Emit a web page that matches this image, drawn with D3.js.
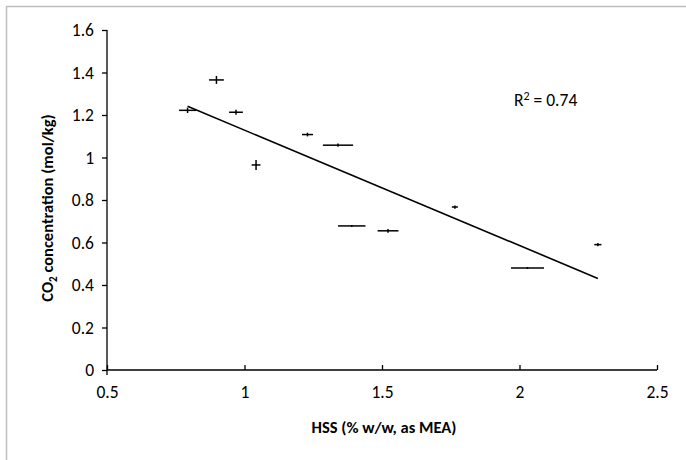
<!DOCTYPE html>
<html>
<head>
<meta charset="utf-8">
<script src="https://cdn.jsdelivr.net/npm/d3@7"></script>
<style>
  html, body { margin: 0; padding: 0; background: #fff; }
  svg text { font-family: Carlito, Calibri, Lato, "Open Sans", sans-serif; fill: #000; }
</style>
</head>
<body>
<svg id="chart" width="686" height="460"></svg>
<script>
// HSS content (% w/w as MEA) and measured CO2 concentration (mol/kg)
const hss   = [0.793, 0.898, 0.969, 1.042, 1.229, 1.340, 1.390, 1.522, 1.765, 2.029, 2.285];
const co2   = [1.222, 1.365, 1.213, 0.965, 1.108, 1.058, 0.678, 0.655, 0.767, 0.480, 0.590];
// error half-widths
const hssErr = [0.031, 0.027, 0.025, 0.016, 0.020, 0.055, 0.050, 0.038, 0.011, 0.060, 0.013];
const co2Err = [0.008, 0.014, 0.007, 0.019, 0.004, 0.003, 0.000, 0.004, 0.003, 0.000, 0.003];

const xTicks = [0.5, 1, 1.5, 2, 2.5];
const yTicks = [0, 0.2, 0.4, 0.6, 0.8, 1, 1.2, 1.4, 1.6];
const r2Label = "0.74";

const svg = d3.select("#chart");
const mLeft = 107, mRight = 657, mTop = 30, mBottom = 370;

// outer chart frame
svg.append("rect")
  .attr("x", 6.5).attr("y", 6.5).attr("width", 740).attr("height", 520)
  .attr("fill", "none").attr("stroke", "#bfbfbf").attr("stroke-width", 1.5);

const x = d3.scaleLinear().domain([0.5, 2.5]).range([mLeft, mRight]);
const y = d3.scaleLinear().domain([0, 1.6]).range([mBottom, mTop]);

// axes
const yAxis = svg.append("g").attr("transform", `translate(${mLeft},0)`)
  .call(d3.axisLeft(y).tickValues(yTicks).tickSize(5).tickPadding(8)
    .tickFormat(d => String(+d.toFixed(1))));
const xAxis = svg.append("g").attr("transform", `translate(0,${mBottom})`)
  .call(d3.axisBottom(x).tickValues(xTicks).tickSize(-5).tickPadding(16)
    .tickFormat(d => String(d)));

[yAxis, xAxis].forEach(g => {
  g.select(".domain").attr("stroke", "#000").attr("stroke-width", 1.3);
  g.selectAll(".tick line").attr("stroke", "#000").attr("stroke-width", 1.3);
  g.selectAll(".tick text").attr("font-size", 17.5);
});
yAxis.select(".domain").attr("d", `M0,${mTop}V${mBottom}`);
xAxis.select(".domain").attr("d", `M${mLeft},0H${mRight}`);
// small extension of the vertical axis below the origin
svg.append("line").attr("x1", mLeft).attr("x2", mLeft).attr("y1", mBottom).attr("y2", mBottom + 5)
  .attr("stroke", "#000").attr("stroke-width", 1.3);

// linear trend line over the data range
const mx = d3.mean(hss), my = d3.mean(co2);
const sxy = d3.sum(hss, (v, i) => (v - mx) * (co2[i] - my));
const sxx = d3.sum(hss, v => (v - mx) ** 2);
const slope = sxy / sxx, intercept = my - slope * mx;
const [xmin, xmax] = d3.extent(hss);
svg.append("line")
  .attr("x1", x(xmin)).attr("y1", y(intercept + slope * xmin))
  .attr("x2", x(xmax)).attr("y2", y(intercept + slope * xmax))
  .attr("stroke", "#000").attr("stroke-width", 1.6);

// error bars
const pts = svg.append("g");
hss.forEach((v, i) => {
  pts.append("line")
    .attr("x1", x(v - hssErr[i])).attr("x2", x(v + hssErr[i]))
    .attr("y1", y(co2[i])).attr("y2", y(co2[i]))
    .attr("stroke", "#000").attr("stroke-width", 1.5);
  pts.append("line")
    .attr("x1", x(v)).attr("x2", x(v))
    .attr("y1", y(co2[i] - co2Err[i]) + 1).attr("y2", y(co2[i] + co2Err[i]) - 1)
    .attr("stroke", "#000").attr("stroke-width", 1.5);
});

// R² annotation
const r2 = svg.append("text").attr("x", 514).attr("y", 106).attr("font-size", 17.5);
r2.append("tspan").text("R");
r2.append("tspan").attr("font-size", 12).attr("dy", -6).text("2");
r2.append("tspan").attr("dy", 6).text(" = " + r2Label);

// axis titles
svg.append("text")
  .attr("x", 384).attr("y", 433)
  .attr("text-anchor", "middle").attr("font-size", 16.5).attr("font-weight", "bold")
  .text("HSS (% w/w, as MEA)");

const yt = svg.append("text")
  .attr("transform", `translate(53,208) rotate(-90)`)
  .attr("text-anchor", "middle").attr("font-size", 16.5).attr("font-weight", "bold");
yt.append("tspan").text("CO");
yt.append("tspan").attr("font-size", 11).attr("dy", 4).text("2");
yt.append("tspan").attr("dy", -4).text(" concentration (mol/kg)");
</script>
</body>
</html>
